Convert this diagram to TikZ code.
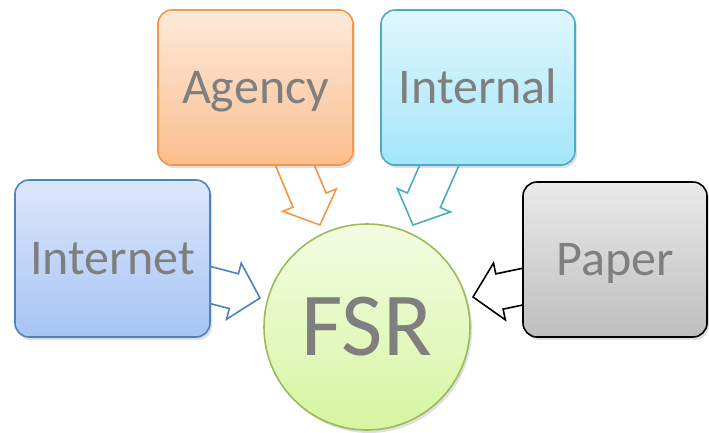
\documentclass[tikz,border=0pt]{standalone}
\usepackage{fontspec}
\setmainfont{Carlito}
\usetikzlibrary{calc,shadows}
\definecolor{txt}{HTML}{7F7F7F}
\definecolor{orA}{HTML}{F79646}
\definecolor{blI}{HTML}{4BACC6}
\definecolor{blN}{HTML}{4F81BD}
\definecolor{grF}{HTML}{9BBB59}
\tikzset{
  box/.style={draw, line width=1.6pt, rounded corners=14pt, inner sep=0pt,
    text=txt, font=\fontsize{50}{50}\selectfont, text height=31.5pt, text depth=0pt,
    drop shadow={opacity=0.25, shadow xshift=2pt, shadow yshift=-3pt}},
  blk/.style={line width=1.6pt, fill=white, line join=miter},
}
\newcommand{\blockarrow}[3]{%
  \filldraw[blk,draw=#3] ($(#1)!18pt!90:(#2)$) -- ($($(#2)!27pt!(#1)$)!18pt!90:(#2)$)
   -- ($($(#2)!27pt!(#1)$)!29pt!90:(#2)$) -- (#2)
   -- ($($(#2)!27pt!(#1)$)!29pt!-90:(#2)$) -- ($($(#2)!27pt!(#1)$)!18pt!-90:(#2)$)
   -- ($(#1)!18pt!-90:(#2)$) -- cycle;}
\begin{document}
\begin{tikzpicture}[x=1pt,y=-1pt]
\useasboundingbox (0,0) rectangle (709,432);
% arrow end points
\coordinate (aS) at (288.5,150);
\coordinate (aT) at (320,225);
\coordinate (iS) at (446,150);
\coordinate (iT) at (413,225);
\coordinate (nS) at (195,281);
\coordinate (nT) at (260,298);
\coordinate (pS) at (540,283);
\coordinate (pT) at (473,297);
\blockarrow{aS}{aT}{orA}
\blockarrow{iS}{iT}{blI}
\blockarrow{nS}{nT}{blN}
\blockarrow{pS}{pT}{black}
% boxes
\node[box, minimum width=195pt, minimum height=155pt, draw=orA,
  top color={rgb,255:red,253;green,234;blue,218}, bottom color={rgb,255:red,251;green,190;blue,142}]
  (agency) at (255.5,87.5) {Agency};
\node[box, minimum width=194pt, minimum height=155pt, draw=blI,
  top color={rgb,255:red,224;green,247;blue,253}, bottom color={rgb,255:red,164;green,229;blue,250}]
  (internal) at (478,87.5) {Internal};
\node[box, minimum width=195pt, minimum height=157pt, draw=blN,
  top color={rgb,255:red,221;green,231;blue,250}, bottom color={rgb,255:red,166;green,196;blue,245}]
  (internet) at (112.5,258.5) {Internet};
\node[box, minimum width=184pt, minimum height=155pt, draw=black,
  top color={rgb,255:red,234;green,234;blue,234}, bottom color={rgb,255:red,190;green,190;blue,190}]
  (paper) at (615,259.5) {Paper};
\node[circle, draw=grF, line width=1.6pt, minimum size=206pt, inner sep=0pt,
  top color={rgb,255:red,243;green,252;blue,226}, bottom color={rgb,255:red,214;green,245;blue,162},
  drop shadow={opacity=0.25, shadow xshift=2pt, shadow yshift=-3pt},
  text=txt, font=\fontsize{90}{90}\selectfont, text height=57pt, text depth=0pt]
  (fsr) at (367,327) {FSR};
\end{tikzpicture}
\end{document}
